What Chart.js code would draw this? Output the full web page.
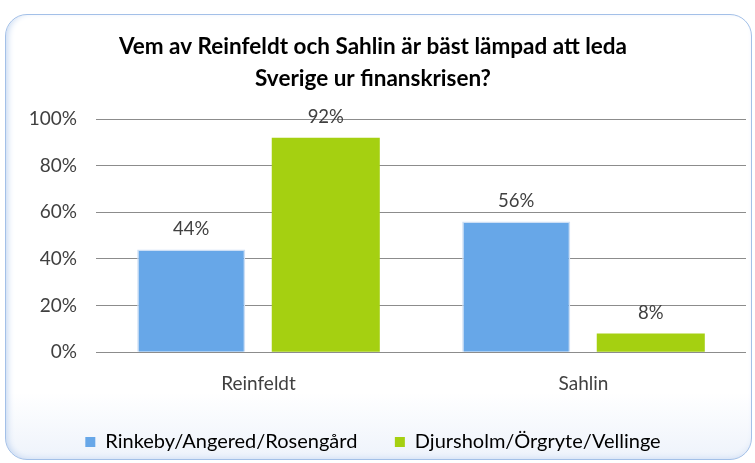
<!DOCTYPE html>
<html>
<head>
<meta charset="utf-8">
<script src="https://cdn.jsdelivr.net/npm/chart.js@4"></script>
<style>
    html, body { margin: 0; padding: 0; background: #ffffff; }
    #card {
        position: absolute; left: 5px; top: 14px; width: 745px; height: 444px;
        border: 1.5px solid #a3c0e8; border-radius: 22px;
        background: linear-gradient(to bottom, #ffffff 0%, #ffffff 85%, #eef3fb 100%);
        box-shadow: inset 5px 0 6px -3px #c9daf2, inset 0 -4px 6px -3px #d5e2f5;
    }
    #wrap { position: absolute; left: 0; top: 0; width: 755px; height: 463px; }
</style>
</head>
<body>
<div id="card"></div>
<div id="wrap"><canvas id="chart" width="755" height="463"></canvas></div>
<script>
const categories = ['Reinfeldt', 'Sahlin'];
const seriesNames = ['Rinkeby/Angered/Rosengård', 'Djursholm/Örgryte/Vellinge'];
const suburbValues = [44, 56];
const wealthyValues = [92, 8];
const titleLines = ['Vem av Reinfeldt och Sahlin är bäst lämpad att leda', 'Sverige ur finanskrisen?'];

const FONT = "Lato, 'Open Sans', sans-serif";

// value labels above each bar
const barLabels = {
    id: 'barLabels',
    afterDatasetsDraw(chart) {
        const ctx = chart.ctx;
        ctx.save();
        ctx.font = "18.5px " + FONT;
        ctx.fillStyle = '#404040';
        ctx.textAlign = 'center';
        ctx.textBaseline = 'middle';
        chart.data.datasets.forEach((ds, i) => {
            chart.getDatasetMeta(i).data.forEach((bar, j) => {
                ctx.fillText(ds.data[j] + '%', bar.x, bar.y - 21);
            });
        });
        ctx.restore();
    }
};

new Chart(document.getElementById('chart').getContext('2d'), {
    type: 'bar',
    data: {
        labels: categories,
        datasets: [
            {
                label: seriesNames[0],
                data: suburbValues,
                backgroundColor: '#67a7e8',
                borderColor: '#cddff5',
                borderWidth: 1.5
            },
            {
                label: seriesNames[1],
                data: wealthyValues,
                backgroundColor: '#a5d011',
                borderColor: '#a5d011',
                borderWidth: 0
            }
        ]
    },
    options: {
        responsive: false,
        animation: false,
        categoryPercentage: 0.828,
        barPercentage: 0.803,
        layout: { padding: { left: 0, right: 9, top: 0, bottom: 1 } },
        plugins: {
            title: {
                display: true,
                text: titleLines,
                color: '#000000',
                font: { family: FONT, size: 22.5, weight: 'bold', lineHeight: 1.4 },
                padding: { top: 31, bottom: 25 }
            },
            legend: {
                position: 'bottom',
                labels: {
                    color: '#222222',
                    font: { family: FONT, size: 20 },
                    boxWidth: 10,
                    boxHeight: 10,
                    padding: 17,
                    // trailing spaces widen the gap between the two entries
                    generateLabels(chart) {
                        return chart.data.datasets.map((ds, i) => ({
                            text: i === 0 ? ds.label + '    ' : ds.label,
                            fillStyle: ds.backgroundColor,
                            strokeStyle: ds.backgroundColor,
                            lineWidth: 0,
                            datasetIndex: i
                        }));
                    }
                }
            },
            tooltip: { enabled: false }
        },
        scales: {
            x: {
                grid: { display: false, drawTicks: false },
                border: { display: false },
                ticks: { color: '#404040', font: { family: FONT, size: 19 }, padding: 20 }
            },
            y: {
                min: 0,
                max: 100,
                afterFit(scale) { scale.width = 96; },
                grid: { color: '#8c8c8c', lineWidth: 1, drawTicks: false },
                border: { display: false },
                ticks: {
                    stepSize: 20,
                    color: '#404040',
                    font: { family: FONT, size: 19 },
                    padding: 19,
                    callback: v => v + '%'
                }
            }
        }
    },
    plugins: [barLabels]
});
</script>
</body>
</html>
